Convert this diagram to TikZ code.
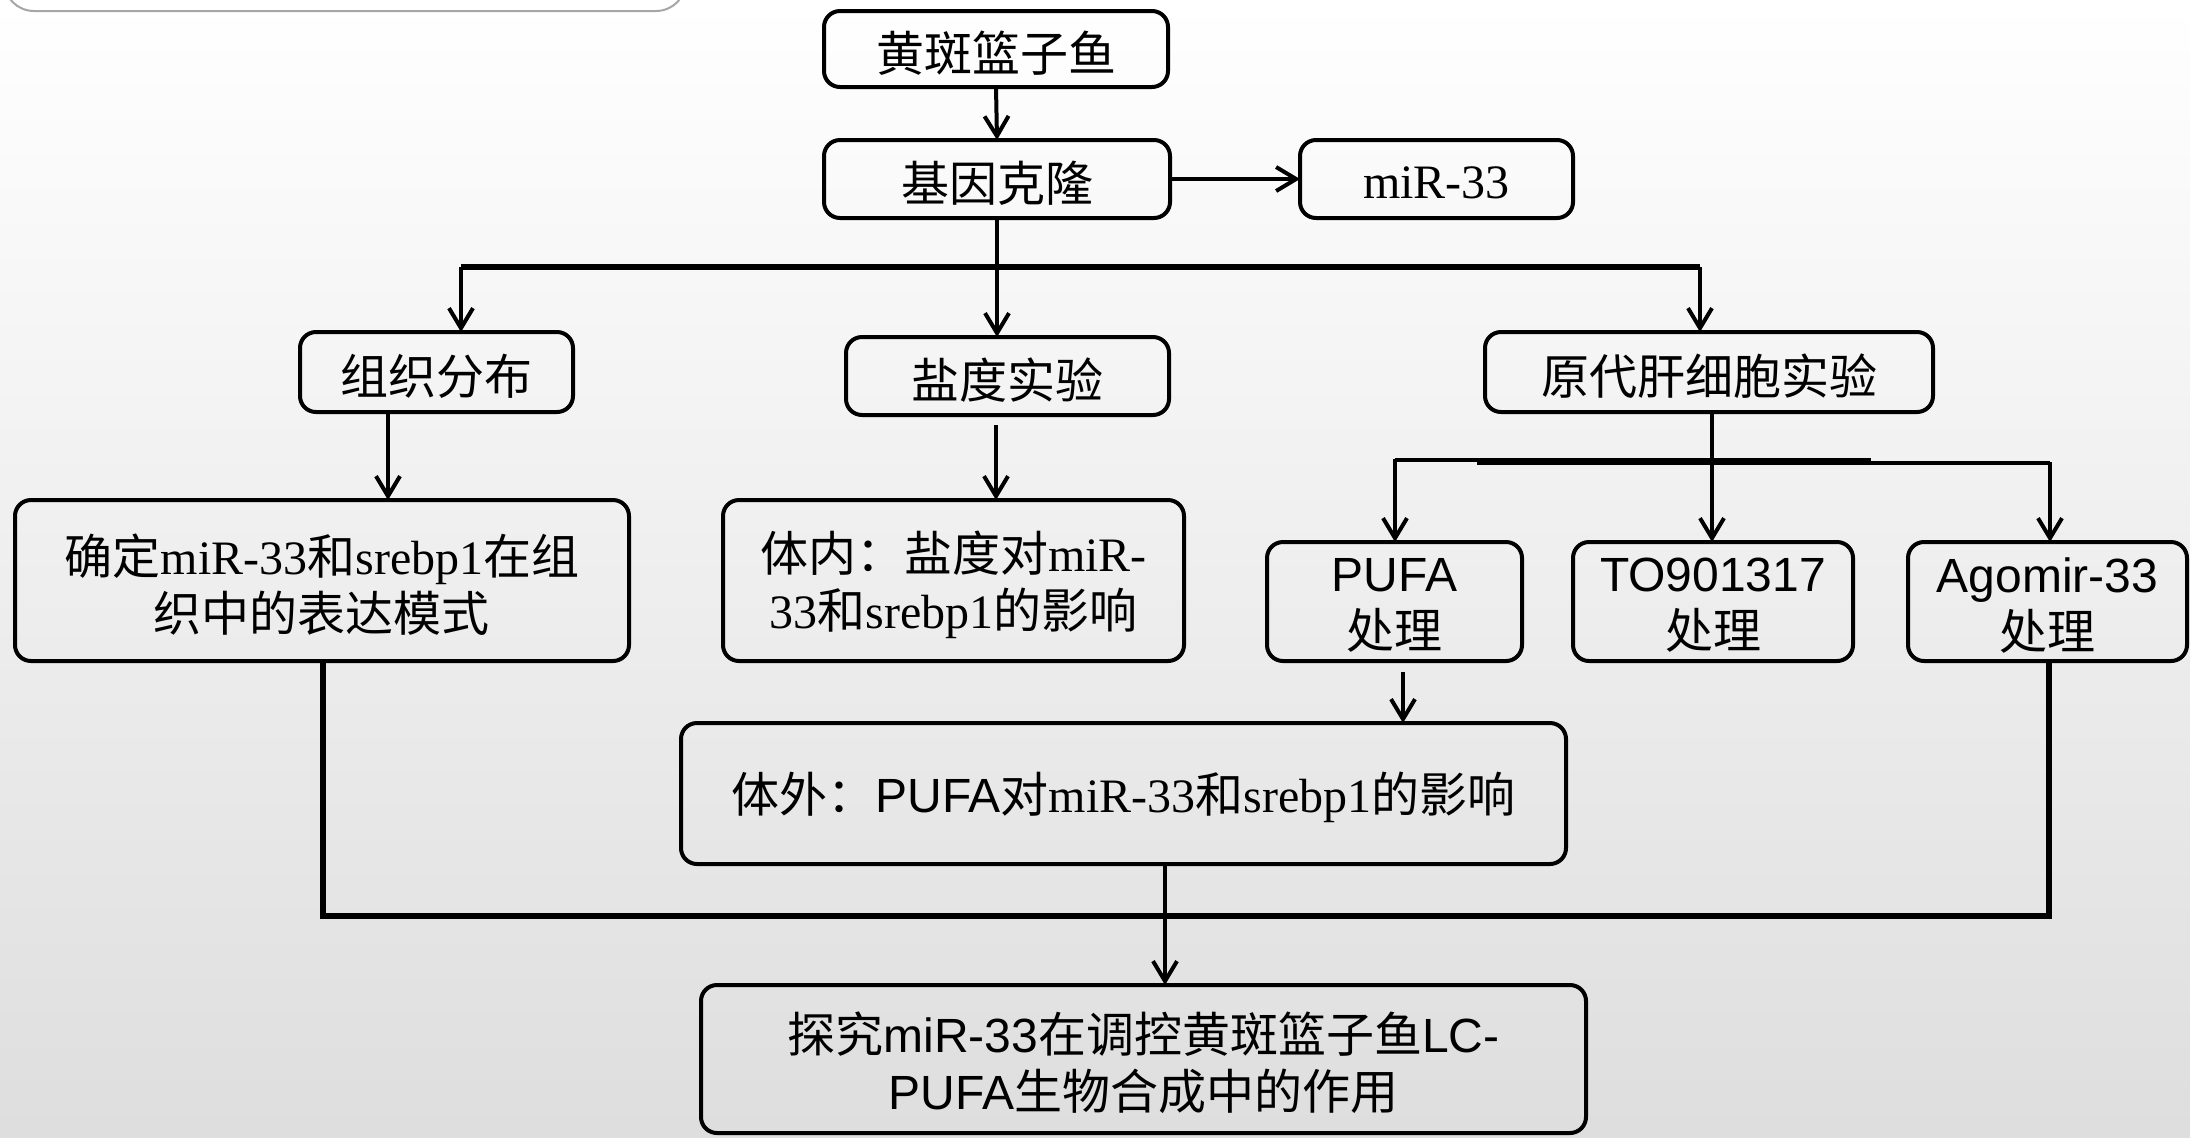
\documentclass[tikz,border=0pt]{standalone}
\usepackage{fontspec}
\setmainfont{Noto Sans CJK SC}
\newfontfamily\tm{Liberation Serif}
\newfontfamily\ar{Liberation Sans}
\usetikzlibrary{arrows.meta,calc}
\tikzset{
  box/.style={draw=black, line width=2pt, rounded corners=8pt, inner sep=0pt, outer sep=0pt},
  txt/.style={align=center, inner sep=0pt, yshift=-2pt, font=\fontsize{24}{28.5}\selectfont},
  ln/.style={line width=1.7pt},
  arr/.style={line width=2pt, -{Straight Barb[length=10pt,width=12pt,line width=2pt]}},
  bus/.style={line width=2.9pt},
}
\newcommand\bx[6]{\node[box, minimum width={(#4-#2)*0.5pt}, minimum height={(#5-#3)*0.5pt},
  label={[txt, name=#1t]center:{#6}}] (#1) at ({(#2+#4)/2},{(#3+#5)/2}) {};}
\begin{document}
\begin{tikzpicture}[x=0.5pt,y=-0.5pt]
\useasboundingbox (0,0) rectangle (2190,1137);
\shade[top color=white, bottom color=black!13] (0,0) rectangle (2190,1137);
\draw[draw=black!35, line width=1pt, fill=white, rounded corners=15pt] (4,-80) rectangle (686,11);

\bx{a1}{824}{11}{1168}{87}{黄斑篮子鱼}
\bx{a2}{824}{140}{1170}{218}{基因克隆}
\bx{a3}{1300}{140}{1573}{218}{\tm miR-33}
\bx{b1}{300}{332}{573}{412}{组织分布}
\bx{b2}{846}{337}{1169}{415}{盐度实验}
\bx{b3}{1485}{332}{1933}{412}{原代肝细胞实验}
\bx{c1}{15}{500}{629}{661}{确定{\tm miR-33}和{\tm srebp1}在组\\织中的表达模式}
\bx{c2}{723}{500}{1184}{661}{体内：盐度对{\tm miR-}\\{\tm 33}和{\tm srebp1}的影响}
\bx{d1}{1267}{542}{1522}{661}{{\ar PUFA}\\处理}
\bx{d2}{1573}{542}{1853}{661}{{\ar TO901317}\\处理}
\bx{d3}{1908}{542}{2187}{661}{{\ar Agomir-33}\\处理}
\bx{e}{681}{723}{1566}{864}{体外：{\ar PUFA}对{\tm miR-33}和{\tm srebp1}的影响}
\bx{f}{701}{985}{1586}{1133}{探究{\ar miR-33}在调控黄斑篮子鱼{\ar LC-}\\{\ar PUFA}生物合成中的作用}

% top part
\draw[arr] (a1.south) -- (a2.north);
\draw[arr] (a2.east) -- (a3.west);
\coordinate (t1) at (461,267);
\coordinate (t3) at (1700,267);
\draw[bus] (t1) -- (t3);
\draw[ln, line width=2pt] (a2.south) -- (a2.south |- t1);
\draw[arr] (t1) -- (t1 |- b1.north);
\draw[arr] (a2.south |- t1) -- (a2.south |- b2.north);
\draw[arr] (t3) -- (t3 |- b3.north);

% second level
\coordinate (k1) at (388,0);
\draw[arr] (k1 |- b1.south) -- (k1 |- c1.north);
\coordinate (k2) at (996,0);
\draw[arr] ($(k2 |- b2.south)+(0,10)$) -- (k2 |- c2.north);

% hepatocyte branch
\coordinate (m) at (1712,460);
\coordinate (h1) at (1395,460);
\coordinate (h1e) at (1871,460);
\coordinate (h2s) at (1477,463);
\coordinate (h3) at (2050,463);
\draw[ln] (m |- b3.south) -- (m);
\draw[ln] (h1) -- (h1e);
\draw[ln] (h2s) -- (h3);
\draw[arr] ($(h1)+(0,-1)$) -- (h1 |- d1.north);
\draw[arr] (m) -- (m |- d2.north);
\draw[arr] ($(h3)+(0,-1)$) -- (h3 |- d3.north);

\coordinate (q) at (1403,0);
\draw[arr] ($(q |- d1.south)+(0,11)$) -- (q |- e.north);

% bottom
\coordinate (u1) at (323,916);
\coordinate (u3) at (2049,916);
\draw[bus, line width=2.6pt] (u1 |- c1.south) -- (u1) -- (u3) -- (u3 |- d3.south);
\coordinate (w) at (1165,0);
\draw[arr] (w |- e.south) -- (w |- f.north);
\end{tikzpicture}
\end{document}
